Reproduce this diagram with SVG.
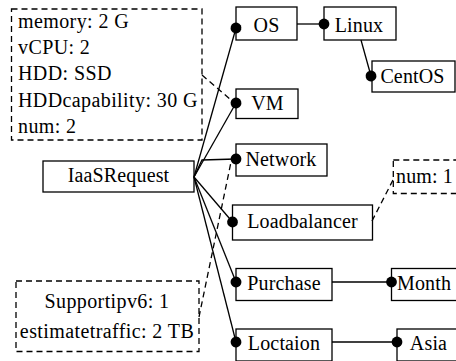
<svg xmlns="http://www.w3.org/2000/svg" width="456" height="361" viewBox="0 0 456 361">
  <style>
    .box { fill: #fff; stroke: #000; stroke-width: 1.3; }
    .note { fill: #fff; stroke: #000; stroke-width: 1.3; stroke-dasharray: 6 4; }
    .lbl { font-family: 'Liberation Serif', 'DejaVu Serif', serif; font-size: 20px; fill: #000; letter-spacing: 0.15px; }
    .wide { letter-spacing: 0.4px; }
    .mid { text-anchor: middle; }
    .edge { fill: none; stroke: #000; stroke-width: 1.3; }
    .dash { fill: none; stroke: #000; stroke-width: 1.3; stroke-dasharray: 6 4; }
  </style>
  <defs>
    <marker id="dot" markerUnits="userSpaceOnUse" markerWidth="12" markerHeight="12" refX="6" refY="6" orient="auto">
      <circle cx="6" cy="6" r="5.4" fill="#000"/>
    </marker>
  </defs>
  <rect width="456" height="361" fill="#fff"/>

  <!-- attribute notes -->
  <g id="vm-attrs">
    <rect class="note" x="11.5" y="9" width="190.5" height="131"/>
    <text class="lbl wide" x="18" y="28">memory: 2 G</text>
    <text class="lbl wide" x="18" y="54">vCPU: 2</text>
    <text class="lbl wide" x="18" y="80">HDD: SSD</text>
    <text class="lbl wide" x="18" y="106.5">HDDcapability: 30 G</text>
    <text class="lbl wide" x="18" y="133">num: 2</text>
  </g>
  <g id="network-attrs">
    <rect class="note" x="16" y="281" width="183" height="70.5"/>
    <text class="lbl wide mid" x="107" y="308">Supportipv6: 1</text>
    <text class="lbl wide mid" x="107" y="338">estimatetraffic: 2 TB</text>
  </g>
  <g id="lb-attrs">
    <rect class="note" x="393.3" y="160" width="80" height="33.5"/>
    <text class="lbl" x="396" y="183">num: 1</text>
  </g>

  <!-- nodes -->
  <g id="iaas-request">
    <rect class="box" x="43" y="161" width="151" height="31"/>
    <text class="lbl mid" x="118.5" y="182">IaaSRequest</text>
  </g>
  <g id="os">
    <rect class="box" x="236" y="7" width="61" height="33"/>
    <text class="lbl mid" x="266.5" y="31.5">OS</text>
  </g>
  <g id="linux">
    <rect class="box" x="324" y="7" width="72" height="33"/>
    <text class="lbl mid" x="359" y="31.5">Linux</text>
  </g>
  <g id="centos">
    <rect class="box" x="372" y="61" width="83" height="31"/>
    <text class="lbl mid" x="412.5" y="82.5">CentOS</text>
  </g>
  <g id="vm">
    <rect class="box" x="236" y="89" width="62" height="29.5"/>
    <text class="lbl mid" x="267.5" y="110">VM</text>
  </g>
  <g id="network">
    <rect class="box" x="236" y="144" width="91" height="32"/>
    <text class="lbl mid" x="281" y="166">Network</text>
  </g>
  <g id="loadbalancer">
    <rect class="box" x="232.5" y="205" width="140" height="35"/>
    <text class="lbl mid" x="302.5" y="227.5">Loadbalancer</text>
  </g>
  <g id="purchase">
    <rect class="box" x="236" y="268.5" width="96" height="32"/>
    <text class="lbl mid" x="284" y="289.5">Purchase</text>
  </g>
  <g id="month">
    <rect class="box" x="391.5" y="268.5" width="80" height="32"/>
    <text class="lbl" x="397" y="289.5">Month</text>
  </g>
  <g id="loctaion">
    <rect class="box" x="236" y="329" width="96" height="32"/>
    <text class="lbl mid" x="284" y="349.5">Loctaion</text>
  </g>
  <g id="asia">
    <rect class="box" x="397" y="329" width="80" height="32"/>
    <text class="lbl mid" x="428.5" y="349.5">Asia</text>
  </g>

  <!-- connectors, drawn last so the end dots sit on the box edges -->
  <g id="connectors">
    <line class="edge" x1="194" y1="177" x2="236" y2="28" marker-end="url(#dot)"/>
    <line class="edge" x1="194" y1="177" x2="236" y2="103" marker-end="url(#dot)"/>
    <polyline class="edge" points="194,177 202,160 236,159" marker-end="url(#dot)"/>
    <line class="edge" x1="194" y1="177" x2="232.5" y2="222" marker-end="url(#dot)"/>
    <line class="edge" x1="194" y1="177" x2="236" y2="282" marker-end="url(#dot)"/>
    <line class="edge" x1="194" y1="177" x2="236" y2="342" marker-end="url(#dot)"/>
    <line class="edge" x1="297" y1="24" x2="324" y2="24" marker-end="url(#dot)"/>
    <line class="edge" x1="361" y1="40" x2="371" y2="76" marker-end="url(#dot)"/>
    <line class="edge" x1="332" y1="282" x2="391.5" y2="282" marker-end="url(#dot)"/>
    <line class="edge" x1="332" y1="342" x2="397" y2="342" marker-end="url(#dot)"/>
    <line class="dash" x1="202" y1="75" x2="231" y2="100"/>
    <line class="dash" x1="199" y1="317" x2="231" y2="162"/>
    <line class="dash" x1="372" y1="221" x2="393" y2="180"/>
  </g>
</svg>
